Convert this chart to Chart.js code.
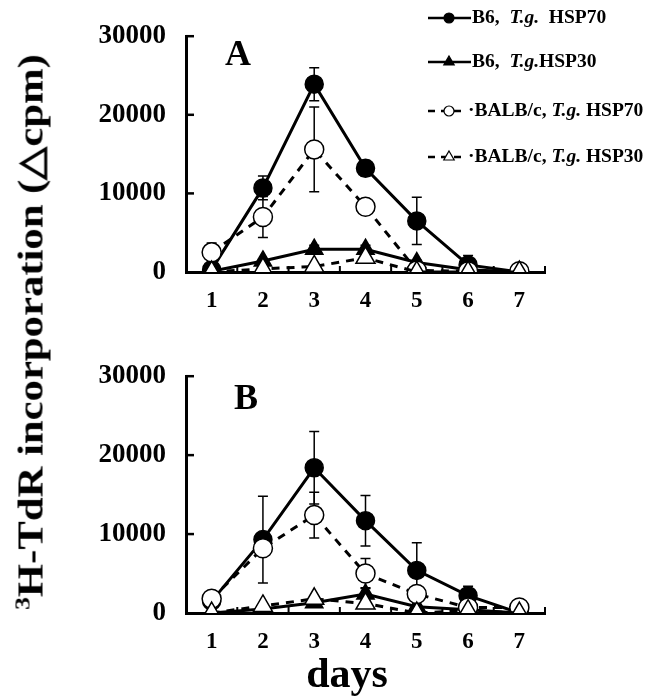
<!DOCTYPE html>
<html>
<head>
<meta charset="utf-8">
<script src="https://cdn.jsdelivr.net/npm/chart.js@4.4.0/dist/chart.umd.min.js"></script>
<style>
    html, body { margin: 0; padding: 0; background: #fff; }
    #page { position: relative; width: 649px; height: 700px; overflow: hidden; font-family: "Liberation Serif", "Times New Roman", serif; color: #000; }
    #chartA { position: absolute; left: 0; top: 0; }
    #chartB { position: absolute; left: 0; top: 340px; }
    #ytitle { position: absolute; left: 31px; top: 332px; transform: translate(-50%, -50%) rotate(-90deg) scaleX(1.22); white-space: nowrap; font-weight: bold; font-size: 35px; }
    #ytitle sup { font-size: 60%; }
    #xtitle { position: absolute; left: 347px; top: 673px; transform: translate(-50%, -50%); font-weight: bold; font-size: 42px; }
</style>
</head>
<body>
<div id="page">
    <canvas id="chartA" width="649" height="340"></canvas>
    <canvas id="chartB" width="649" height="360"></canvas>
    <div id="ytitle"><sup>3</sup>H-TdR incorporation (△cpm)</div>
    <div id="xtitle">days</div>
</div>
<script>
const DAYS = [1, 2, 3, 4, 5, 6, 7];
const Y_TICKS = [0, 10000, 20000, 30000];
const SERIES_LABELS = ['B6, T.g. HSP70', 'B6, T.g. HSP30', 'BALB/c, T.g. HSP70', 'BALB/c, T.g. HSP30'];

// panel A
const A_B6_HSP70 = [300, 10700, 23900, 13200, 6500, 900, 0];
const A_B6_HSP70_SD = [0, 1500, 2100, 1000, 3000, 1200, 0];
const A_B6_HSP30 = [100, 1400, 2900, 2900, 1200, 300, 0];
const A_B6_HSP30_SD = [0, 300, 500, 500, 300, 0, 0];
const A_BALB_HSP70 = [2500, 7000, 15600, 8300, 200, 100, 100];
const A_BALB_HSP70_SD = [1200, 2600, 5400, 800, 0, 0, 0];
const A_BALB_HSP30 = [0, 400, 700, 1800, 0, 0, 0];
const A_BALB_HSP30_SD = [0, 300, 300, 300, 0, 0, 0];

// panel B
const B_B6_HSP70 = [1500, 9300, 18400, 11700, 5400, 2200, 0];
const B_B6_HSP70_SD = [0, 5500, 4600, 3200, 3500, 1200, 0];
const B_B6_HSP30 = [0, 500, 1300, 2400, 800, 400, 0];
const B_B6_HSP30_SD = [0, 0, 0, 800, 0, 0, 0];
const B_BALB_HSP70 = [1800, 8200, 12400, 5000, 2400, 700, 700];
const B_BALB_HSP70_SD = [0, 0, 2900, 1900, 0, 0, 0];
const B_BALB_HSP30 = [0, 900, 1800, 1200, 0, 300, 0];
const B_BALB_HSP30_SD = [0, 0, 0, 0, 0, 0, 0];

const FONT = '"Liberation Serif", "Times New Roman", serif';

const STYLES = [
    { pointStyle: 'circle', radius: 9, fill: '#000', dash: [], order: 4 },
    { pointStyle: 'triangle', radius: 10, fill: '#000', dash: [], order: 3 },
    { pointStyle: 'circle', radius: 9.5, fill: '#fff', dash: [8, 7], order: 2 },
    { pointStyle: 'triangle', radius: 11, fill: '#fff', dash: [8, 7], order: 1 },
];

function buildDatasets(values, sds) {
    return values.map((vals, i) => ({
        label: SERIES_LABELS[i],
        data: DAYS.map((d, j) => ({ x: d, y: vals[j] })),
        sd: sds[i],
        order: STYLES[i].order,
        borderColor: '#000',
        borderWidth: 3,
        borderDash: STYLES[i].dash,
        tension: 0,
        pointStyle: STYLES[i].pointStyle,
        pointRadius: STYLES[i].radius,
        pointBackgroundColor: STYLES[i].fill,
        pointBorderColor: '#000',
        pointBorderWidth: 1.5,
    }));
}

const errorBars = {
    id: 'errorBars',
    beforeDatasetsDraw(chart) {
        const { ctx, scales: { x, y } } = chart;
        ctx.save();
        ctx.strokeStyle = '#000';
        ctx.lineWidth = 1.5;
        chart.data.datasets.forEach((ds) => {
            ds.data.forEach((p, j) => {
                const sd = ds.sd[j];
                if (!sd) return;
                const px = x.getPixelForValue(p.x);
                const top = y.getPixelForValue(p.y + sd);
                const bot = y.getPixelForValue(Math.max(0, p.y - sd));
                ctx.beginPath();
                ctx.moveTo(px, top); ctx.lineTo(px, bot);
                ctx.moveTo(px - 5, top); ctx.lineTo(px + 5, top);
                ctx.moveTo(px - 5, bot); ctx.lineTo(px + 5, bot);
                ctx.stroke();
            });
        });
        ctx.restore();
    },
};

const innerTicks = {
    id: 'innerTicks',
    afterDraw(chart) {
        const { ctx, scales: { x, y } } = chart;
        ctx.save();
        ctx.strokeStyle = '#000';
        ctx.lineWidth = 2.5;
        Y_TICKS.slice(1).forEach((v) => {
            const py = y.getPixelForValue(v);
            ctx.beginPath();
            ctx.moveTo(x.left, py);
            ctx.lineTo(x.left + 8, py);
            ctx.stroke();
        });
        ctx.lineWidth = 2;
        DAYS.forEach((d) => {
            const px = x.getPixelForValue(d + 0.5);
            ctx.beginPath();
            ctx.moveTo(px, y.bottom);
            ctx.lineTo(px, y.bottom - 6);
            ctx.stroke();
        });
        ctx.restore();
    },
};

const panelLetter = {
    id: 'panelLetter',
    afterDraw(chart, args, opts) {
        const { ctx } = chart;
        ctx.save();
        ctx.font = 'bold 36px ' + FONT;
        ctx.fillStyle = '#000';
        ctx.textAlign = 'center';
        ctx.textBaseline = 'middle';
        ctx.fillText(opts.text, opts.x, opts.y);
        ctx.restore();
    },
};

const LEGEND_ROWS = [
    { y: 18, parts: [['B6,  ', false], ['T.g.', true], '  HSP70'] },
    { y: 62, parts: [['B6,  ', false], ['T.g.', true], 'HSP30'] },
    { y: 111, parts: [['·BALB/c, ', false], ['T.g.', true], ' HSP70'] },
    { y: 157, parts: [['·BALB/c, ', false], ['T.g.', true], ' HSP30'] },
];

const sideLegend = {
    id: 'sideLegend',
    afterDraw(chart) {
        const { ctx } = chart;
        ctx.save();
        LEGEND_ROWS.forEach((row, i) => {
            const st = STYLES[i];
            ctx.strokeStyle = '#000';
            ctx.lineWidth = 2.5;
            ctx.setLineDash(st.dash.length ? [7, 6] : []);
            ctx.beginPath();
            ctx.moveTo(428, row.y);
            ctx.lineTo(st.dash.length ? 466 : 471, row.y);
            ctx.stroke();
            ctx.setLineDash([]);
            ctx.fillStyle = st.fill;
            ctx.lineWidth = 1.2;
            Chart.helpers.drawPoint(ctx, {
                pointStyle: st.pointStyle,
                radius: st.pointStyle === 'triangle' ? 6 : 5,
                rotation: 0,
                borderWidth: 1.2,
            }, 449, row.y);

            let tx = st.dash.length ? 468 : 472;
            ctx.fillStyle = '#000';
            ctx.textBaseline = 'middle';
            row.parts.forEach((p) => {
                const text = Array.isArray(p) ? p[0] : p;
                const italic = Array.isArray(p) && p[1];
                ctx.font = (italic ? 'italic ' : '') + 'bold 19.5px ' + FONT;
                ctx.fillText(text, tx, row.y);
                tx += ctx.measureText(text).width;
            });
        });
        ctx.restore();
    },
};

function makePanel(canvasId, values, sds, letter, padTop, xHeight, withLegend) {
    const plugins = [errorBars, innerTicks, panelLetter];
    if (withLegend) plugins.push(sideLegend);
    return new Chart(document.getElementById(canvasId), {
        type: 'line',
        data: { datasets: buildDatasets(values, sds) },
        plugins: plugins,
        options: {
            responsive: false,
            animation: false,
            devicePixelRatio: 1,
            layout: { padding: { top: padTop, right: 104, left: 0, bottom: 0 } },
            plugins: {
                legend: { display: false },
                tooltip: { enabled: false },
                panelLetter: letter,
            },
            scales: {
                x: {
                    type: 'linear',
                    min: 0.5,
                    max: 7.5,
                    afterBuildTicks: (s) => { s.ticks = DAYS.map((v) => ({ value: v })); },
                    afterFit: (s) => { s.height = xHeight; },
                    grid: { display: false, drawTicks: false },
                    border: { color: '#000', width: 3 },
                    ticks: { color: '#000', padding: 15, font: { family: FONT, size: 23, weight: 'bold' } },
                },
                y: {
                    min: 0,
                    max: 30000,
                    afterBuildTicks: (s) => { s.ticks = Y_TICKS.map((v) => ({ value: v })); },
                    afterFit: (s) => { s.width = 186; },
                    grid: { display: false, drawTicks: false },
                    border: { color: '#000', width: 3 },
                    ticks: { color: '#000', padding: 20, callback: (v) => String(v), font: { family: FONT, size: 27, weight: 'bold' } },
                },
            },
            events: [],
        },
    });
}

makePanel('chartA',
    [A_B6_HSP70, A_B6_HSP30, A_BALB_HSP70, A_BALB_HSP30],
    [A_B6_HSP70_SD, A_B6_HSP30_SD, A_BALB_HSP70_SD, A_BALB_HSP30_SD],
    { text: 'A', x: 238, y: 56 }, 27, 68, true);

makePanel('chartB',
    [B_B6_HSP70, B_B6_HSP30, B_BALB_HSP70, B_BALB_HSP30],
    [B_B6_HSP70_SD, B_B6_HSP30_SD, B_BALB_HSP70_SD, B_BALB_HSP30_SD],
    { text: 'B', x: 246, y: 60 }, 29, 87, false);
</script>
</body>
</html>
